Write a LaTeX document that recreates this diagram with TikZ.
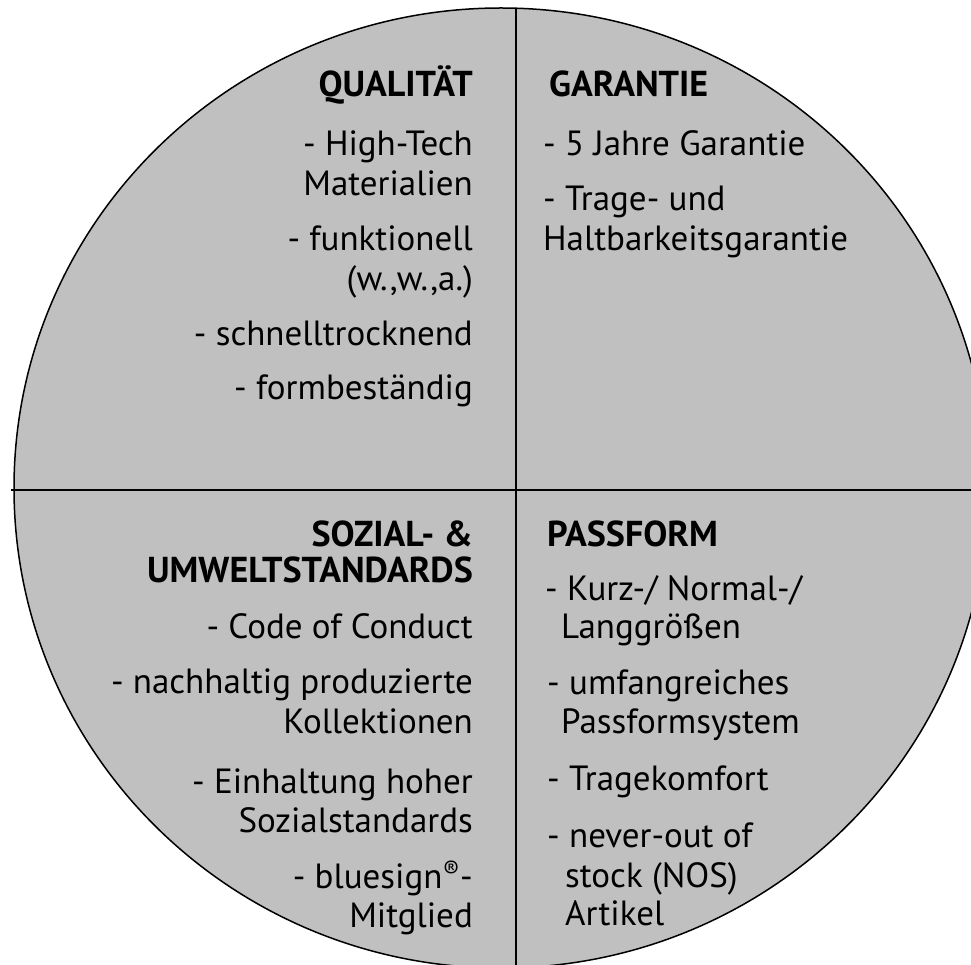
\documentclass[tikz,border=0pt]{standalone}
\usepackage{fontspec}
\setmainfont{PT Sans}
\usetikzlibrary{positioning}
\definecolor{quadgray}{HTML}{C0C0C0}
\tikzset{
  item/.style={inner sep=0pt, font=\fontsize{35}{39}\selectfont},
  head/.style={inner sep=0pt, font=\fontsize{36}{39}\selectfont\bfseries},
}
\begin{document}
\begin{tikzpicture}[x=1pt,y=-1pt]
  \useasboundingbox (0,0) rectangle (971,965);
  \clip (0,0) rectangle (971,965);
  % disc and quadrant lines
  \draw[line width=1.5pt, fill=quadgray] (501,488) ellipse [x radius=487pt, y radius=480pt];
  \coordinate (vtop) at (515.5,8);
  \coordinate (vbot) at (515.5,965);
  \coordinate (hleft) at (11,490);
  \coordinate (hright) at (971,490);
  \draw[line width=2pt] (vtop) -- (vbot);
  \draw[line width=2pt] (hleft) -- (hright);
  % headings
  \node[head, anchor=base east] (qual) at (473,97) {QUALITÄT};
  \node[head, anchor=base west] (gar) at (549,97) {GARANTIE};
  \node[head, anchor=base east] (soz) at (473,546) {SOZIAL- \&};
  \node[head, anchor=base east] (umw) at (473,582) {UMWELTSTANDARDS};
  \node[head, anchor=base west] (pass) at (547,546) {PASSFORM};
  % Qualitaet
  \foreach \txt/\yy [count=\i] in {- High-Tech/156, Materialien/196, - funktionell/251,
      {(w.,w.,a.)}/291, - schnelltrocknend/345, - formbeständig/399}
    \node[item, anchor=base east] (ql\i) at (473,\yy) {\txt};
  % Garantie
  \foreach \txt/\yy [count=\i] in {- 5 Jahre Garantie/156, - Trage- und/211,
      Haltbarkeitsgarantie/251}
    \node[item, anchor=base west] (ga\i) at (543,\yy) {\txt};
  % Sozial- und Umweltstandards
  \foreach \txt/\yy [count=\i] in {- Code of Conduct/638, - nachhaltig produzierte/693,
      Kollektionen/733, - Einhaltung hoher/793, Sozialstandards/832,
      - bluesign\textsuperscript{®}-/888, Mitglied/927}
    \node[item, anchor=base east] (so\i) at (473,\yy) {\txt};
  % Passform
  \foreach \txt/\xx/\yy [count=\i] in {{- Kurz-/ Normal-/}/545/600, Langgrößen/561/638,
      - umfangreiches/547/694, Passformsystem/561/733, - Tragekomfort/547/790,
      - never-out of/547/847, stock (NOS)/565/887, Artikel/565/925}
    \node[item, anchor=base west] (pa\i) at (\xx,\yy) {\txt};
\end{tikzpicture}
\end{document}
